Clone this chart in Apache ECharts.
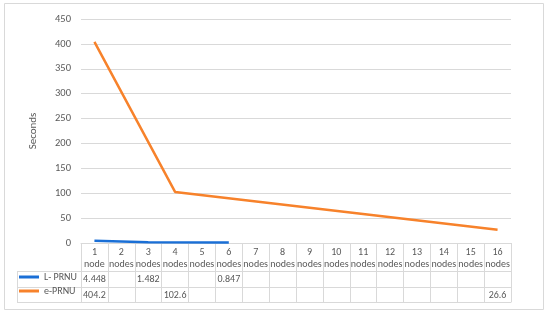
<!DOCTYPE html>
<html>
<head>
<meta charset="utf-8">
<script src="https://cdn.jsdelivr.net/npm/echarts@6/dist/echarts.min.js"></script>
<style>
  html, body { margin: 0; padding: 0; background: #fff; }
  #chart { width: 550px; height: 316px; }
</style>
</head>
<body>
<div id="chart"></div>
<script>
// node counts along the x axis
const nodes = ['1', '2', '3', '4', '5', '6', '7', '8', '9', '10', '11', '12', '13', '14', '15', '16']
const nodeLabels = nodes.map(n => n + '\n' + (n === '1' ? 'node' : 'nodes'))

// seconds per configuration (blank cells = null)
const lPrnu = [4.448, null, 1.482, null, null, 0.847, null, null, null, null, null, null, null, null, null, null]
const ePrnu = [404.2, null, null, 102.6, null, null, null, null, null, null, null, null, null, null, null, 26.6]

const yTicks = { min: 0, max: 450, interval: 50 }

const gridColor = '#d9d9d9'
const textColor = '#595959'
const font = 'Calibri, Carlito, "Liberation Sans", sans-serif'

const cellText = arr => arr.map(v => (v === null ? '' : String(v)))

const chart = echarts.init(document.getElementById('chart'))

chart.setOption({
  animation: false,
  textStyle: { fontFamily: font },
  grid: { left: 81, right: 39, top: 19, bottom: 73 },
  legend: {
    orient: 'vertical',
    left: 19,
    top: 272,
    padding: 0,
    icon: 'rect',
    itemWidth: 20,
    itemHeight: 3,
    itemGap: 4,
    textStyle: { color: textColor, fontSize: 10 },
    data: ['L- PRNU', 'e-PRNU']
  },
  yAxis: {
    type: 'value',
    min: yTicks.min,
    max: yTicks.max,
    interval: yTicks.interval,
    name: 'Seconds',
    nameLocation: 'middle',
    nameGap: 42,
    nameTextStyle: { color: textColor, fontSize: 11 },
    axisLine: { show: false },
    axisTick: { show: false },
    axisLabel: { color: textColor, fontSize: 10.5, margin: 10 },
    splitLine: { lineStyle: { color: gridColor, width: 1 } }
  },
  xAxis: [
    {
      type: 'category',
      data: nodeLabels,
      boundaryGap: true,
      axisLine: { lineStyle: { color: gridColor } },
      axisTick: { show: true, interval: 0, length: 28, lineStyle: { color: gridColor } },
      axisLabel: { interval: 0, color: textColor, fontSize: 10, lineHeight: 12, margin: 3 }
    },
    {
      type: 'category',
      data: cellText(lPrnu),
      position: 'bottom',
      offset: 28,
      boundaryGap: true,
      axisLine: { lineStyle: { color: gridColor } },
      axisTick: { show: true, interval: 0, length: 16, lineStyle: { color: gridColor } },
      axisLabel: { interval: 0, color: textColor, fontSize: 10, margin: 3 }
    },
    {
      type: 'category',
      data: cellText(ePrnu),
      position: 'bottom',
      offset: 44,
      boundaryGap: true,
      axisLine: { lineStyle: { color: gridColor } },
      axisTick: { show: true, interval: 0, length: 15, lineStyle: { color: gridColor } },
      axisLabel: { interval: 0, color: textColor, fontSize: 10, margin: 3 }
    },
    {
      type: 'category',
      data: nodes,
      position: 'bottom',
      offset: 59,
      boundaryGap: true,
      axisLine: { lineStyle: { color: gridColor } },
      axisTick: { show: false },
      axisLabel: { show: false }
    }
  ],
  series: [
    {
      name: 'L- PRNU',
      type: 'line',
      data: lPrnu,
      connectNulls: true,
      symbol: 'none',
      lineStyle: { color: '#1a6fd6', width: 2.5 },
      itemStyle: { color: '#1a6fd6' },
      z: 3
    },
    {
      name: 'e-PRNU',
      type: 'line',
      data: ePrnu,
      connectNulls: true,
      symbol: 'none',
      lineStyle: { color: '#f7822b', width: 2.5 },
      itemStyle: { color: '#f7822b' },
      z: 2
    }
  ],
  graphic: [
    // outer chart frame
    { type: 'rect', shape: { x: 4.5, y: 3.5, width: 539, height: 306 }, style: { fill: 'none', stroke: gridColor }, z: -1 },
    // legend cells of the data table
    { type: 'line', shape: { x1: 17, y1: 271.5, x2: 81, y2: 271.5 }, style: { stroke: gridColor } },
    { type: 'line', shape: { x1: 17, y1: 287.5, x2: 81, y2: 287.5 }, style: { stroke: gridColor } },
    { type: 'line', shape: { x1: 17, y1: 302.5, x2: 81, y2: 302.5 }, style: { stroke: gridColor } },
    { type: 'line', shape: { x1: 17.5, y1: 271, x2: 17.5, y2: 303 }, style: { stroke: gridColor } }
  ]
})
</script>
</body>
</html>
